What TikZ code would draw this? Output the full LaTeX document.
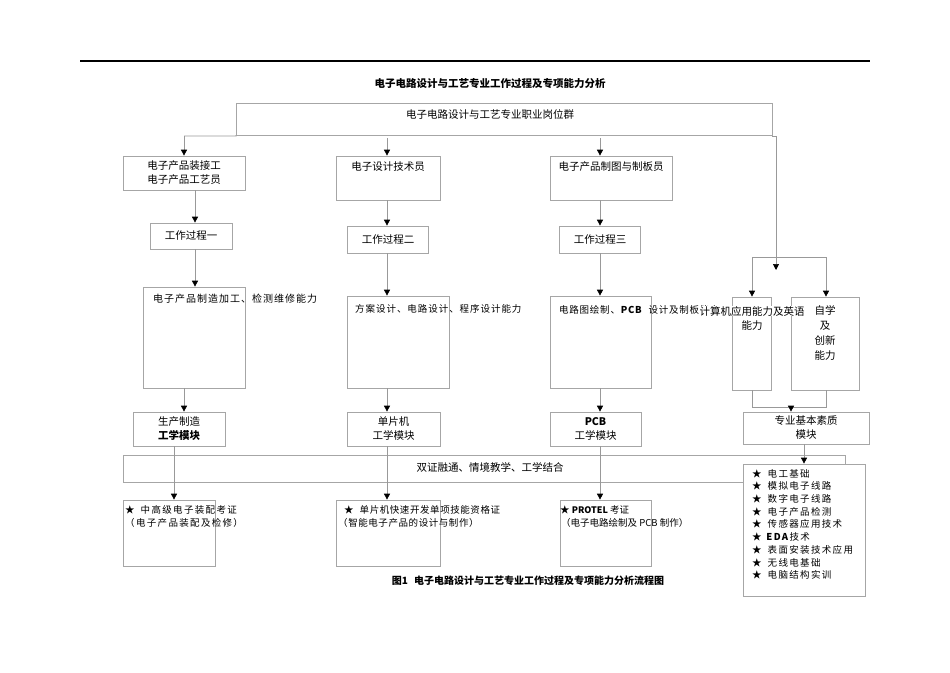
\documentclass[tikz,border=0pt]{standalone}
\usepackage{fontspec}
\setmainfont{Noto Sans CJK SC}
\usetikzlibrary{arrows.meta}
\begin{document}
\begin{tikzpicture}[x=1pt,y=-1pt,
  box/.style={draw=black!35,line width=0.7pt,inner sep=0pt},
  ln/.style={draw=black!40,line width=0.7pt},
  arr/.style={ln,-{Triangle[length=6pt,width=6pt,fill=black,color=black]}},
  txt/.style={font=\fontsize{10.5}{12}\selectfont,inner sep=0pt,align=center},
  ltxt/.style={txt,anchor=west,align=left}]
\useasboundingbox (0,0) rectangle (950,672);
\fill[white] (0,0) rectangle (950,672);
\draw[line width=1.2pt] (80,61) -- (870,61);
\node[txt,font=\fontsize{10.5}{12}\selectfont\bfseries] (title) at (490,84) {电子电路设计与工艺专业工作过程及专项能力分析};
% top
\node[box,minimum width=536pt,minimum height=32pt] (top) at (504,119) {};
\node[txt] at (490,114) {电子电路设计与工艺专业职业岗位群};
\coordinate (tl) at (236,136);
\coordinate (tr) at (776,136);
% row 1
\node[box,minimum width=122pt,minimum height=34pt] (b1) at (184,173) {};
\node[txt,font=\fontsize{10.5}{14}\selectfont] at (184,173) {电子产品装接工\\电子产品工艺员};
\node[box,minimum width=104pt,minimum height=44pt] (b2) at (388,178) {};
\node[txt] at (388,167) {电子设计技术员};
\node[box,minimum width=122pt,minimum height=44pt] (b3) at (611,178) {};
\node[txt] at (611,167) {电子产品制图与制板员};
\draw[ln] (top.south west) -- (tl) -- (184,136);
\draw[arr] (184,136) -- (b1.north -| 184,0);
\draw[arr] (387,138) -- (b2.north -| 387,0);
\draw[arr] (600,138) -- (b3.north -| 600,0);
% work processes
\node[box,minimum width=82pt,minimum height=26pt] (w1) at (191,236) {};
\node[txt] at (191,236) {工作过程一};
\node[box,minimum width=81pt,minimum height=27pt] (w2) at (388,239.5) {};
\node[txt] at (388,239.5) {工作过程二};
\node[box,minimum width=81pt,minimum height=27pt] (w3) at (600,239.5) {};
\node[txt] at (600,239.5) {工作过程三};
\draw[arr] (b1.south -| 195,0) -- (w1.north -| 195,0);
\draw[arr] (b2.south -| 387,0) -- (w2.north -| 387,0);
\draw[arr] (b3.south -| 600,0) -- (w3.north -| 600,0);
% ability boxes
\node[box,minimum width=102pt,minimum height=101pt] (a1) at (194,337.5) {};
\node[box,minimum width=102pt,minimum height=92pt] (a2) at (398,342) {};
\node[box,minimum width=101pt,minimum height=92pt] (a3) at (600.5,342) {};
\draw[arr] (w1.south -| 195,0) -- (a1.north -| 195,0);
\draw[arr] (w2.south -| 387,0) -- (a2.north -| 387,0);
\draw[arr] (w3.south -| 600,0) -- (a3.north -| 600,0);
\node[ltxt,font=\fontsize{10}{11}\selectfont\addfontfeature{LetterSpace=10}] at (153,299) {电子产品制造加工、检测维修能力};
\node[ltxt,font=\fontsize{9.5}{11}\selectfont\addfontfeature{LetterSpace=10}] at (355,309) {方案设计、电路设计、程序设计能力};
\node[ltxt,font=\fontsize{9.5}{11}\selectfont\addfontfeature{LetterSpace=8}] at (559,310) {电路图绘制、\textbf{PCB}\hspace{6pt}设计及制板能力};
% right branch
\node[box,minimum width=39pt,minimum height=93pt] (d) at (751.5,343.5) {};
\node[box,minimum width=68pt,minimum height=93pt] (e) at (825,343.5) {};
\draw[ln] (top.east |- tr) -- (tr);
\draw[arr] (tr) -- (776,270);
\draw[ln] (752,257) -- (826,257);
\draw[arr] (752,257) -- (d.north -| 752,0);
\draw[arr] (826,257) -- (e.north -| 826,0);
\node[txt,fill=white,inner sep=0.5pt] at (752,311) {计算机应用能力及英语};
\node[txt] at (752,326) {能力};
\node[txt,font=\fontsize{10.5}{14.7}\selectfont] at (825,333) {自学\\及\\创新\\能力};
% modules
\node[box,minimum width=92pt,minimum height=34pt] (m1) at (179,429) {};
\node[txt,font=\fontsize{10.5}{14}\selectfont] at (179,429) {生产制造\\\textbf{工学模块}};
\node[box,minimum width=93pt,minimum height=34pt] (m2) at (393.5,429) {};
\node[txt,font=\fontsize{10.5}{14}\selectfont] at (393.5,429) {单片机\\工学模块};
\node[box,minimum width=91pt,minimum height=34pt] (m3) at (595.5,429) {};
\node[txt,font=\fontsize{10.5}{14}\selectfont] at (595.5,429) {\textbf{PCB}\\工学模块};
\node[box,minimum width=126pt,minimum height=32pt] (m4) at (806,428) {};
\node[txt,font=\fontsize{10.5}{14}\selectfont] at (806,428) {专业基本素质\\模块};
\draw[arr] (a1.south -| 184,0) -- (m1.north -| 184,0);
\draw[arr] (a2.south -| 387,0) -- (m2.north -| 387,0);
\draw[arr] (a3.south -| 600,0) -- (m3.north -| 600,0);
\draw[ln] (d.south -| 752,0) -- (752,407) -- (826,407) -- (e.south -| 826,0);
\draw[arr] (791,407) -- (m4.north -| 791,0);
% band
\node[box,minimum width=722pt,minimum height=27pt] (band) at (484,468.5) {};
\node[txt] at (490,467) {双证融通、情境教学、工学结合};
% certs
\node[box,minimum width=92pt,minimum height=66pt] (c1) at (169,533) {};
\node[box,minimum width=104pt,minimum height=66pt] (c2) at (388,533) {};
\node[box,minimum width=91pt,minimum height=66pt] (c3) at (605.5,533) {};
\draw[arr] (m1.south -| 174,0) -- (c1.north -| 174,0);
\draw[arr] (m2.south -| 387,0) -- (c2.north -| 387,0);
\draw[arr] (m3.south -| 600,0) -- (c3.north -| 600,0);
\node[ltxt,font=\fontsize{9.5}{13}\selectfont\addfontfeature{LetterSpace=14}] at (125,516.5) {★\hspace{6pt}中高级电子装配考证\\（电子产品装配及检修）};
\node[ltxt,font=\fontsize{9.5}{13}\selectfont\addfontfeature{LetterSpace=6}] at (338,516.5) {\hspace{6pt}★\hspace{6pt}单片机快速开发单项技能资格证\\（智能电子产品的设计与制作）};
\node[ltxt,font=\fontsize{9.5}{13}\selectfont] at (560,516.5) {★ \textbf{\small PROTEL} 考证\\\hspace{1pt}（电子电路绘制及 PCB 制作）};
% list
\node[box,fill=white,minimum width=122pt,minimum height=132pt] (lst) at (804,530) {};
\draw[arr] (m4.south -| 804,0) -- (lst.north -| 804,0);
\node[ltxt,font=\fontsize{9.5}{12.7}\selectfont\addfontfeature{LetterSpace=14},anchor=north west] at (752,469) {★\hspace{6pt}电工基础\\★\hspace{6pt}模拟电子线路\\★\hspace{6pt}数字电子线路\\★\hspace{6pt}电子产品检测\\★\hspace{6pt}传感器应用技术\\★ \textbf{EDA}技术\\★\hspace{6pt}表面安装技术应用\\★\hspace{6pt}无线电基础\\★\hspace{6pt}电脑结构实训};
% caption
\node[txt,font=\fontsize{10}{11}\selectfont\bfseries] (cap) at (528,581) {图1\hspace{6pt}电子电路设计与工艺专业工作过程及专项能力分析流程图};
\end{tikzpicture}
\end{document}
